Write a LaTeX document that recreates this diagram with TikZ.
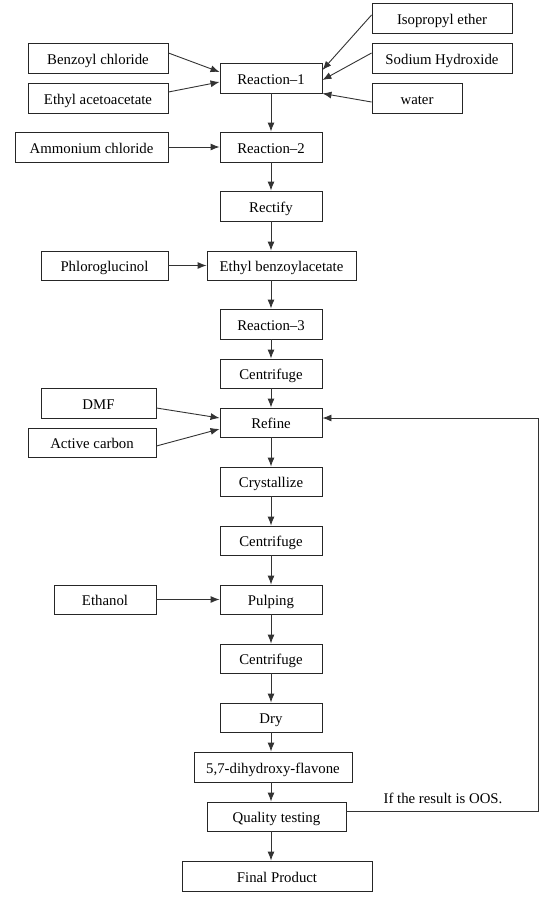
\documentclass[tikz,border=0pt]{standalone}
\usepackage{fontspec}
\setmainfont{Liberation Serif}
\usetikzlibrary{arrows.meta}
\begin{document}
\begin{tikzpicture}[x=1pt,y=-1pt,
  box/.style={draw=black!85, line width=0.9pt, rectangle, inner sep=0pt, minimum height=30pt, text height=12pt, text depth=0pt, font=\fontsize{14.8}{17}\selectfont, text=black},
  arr/.style={draw=black!80, line width=0.9pt, -{Latex[length=9pt,width=7pt]}}]
\useasboundingbox (0,0) rectangle (556,900);
\fill[white] (0,0) rectangle (556,900);
% input boxes
\node[box, minimum width=140pt] (iso) at (442,18) {Isopropyl ether};
\node[box, minimum width=140pt] (naoh) at (442,58) {Sodium Hydroxide};
\node[box, minimum width=90pt] (water) at (417,98) {water};
\node[box, minimum width=140pt] (benz) at (98,58) {Benzoyl chloride};
\node[box, minimum width=140pt] (eaa) at (98,98) {Ethyl acetoacetate};
\node[box, minimum width=153pt] (amm) at (91.5,147) {Ammonium chloride};
\node[box, minimum width=127pt, minimum height=29pt] (phl) at (104.5,265.5) {Phloroglucinol};
\node[box, minimum width=115pt] (dmf) at (98.5,403) {DMF};
\node[box, minimum width=128pt, minimum height=29pt] (ac) at (92,442.5) {Active carbon};
\node[box, minimum width=102pt, minimum height=29pt] (eth) at (105,599.5) {Ethanol};
% main column
\node[box, minimum width=102pt] (r1) at (271,78) {Reaction–1};
\node[box, minimum width=102pt] (r2) at (271,147) {Reaction–2};
\node[box, minimum width=102pt] (rect) at (271,206) {Rectify};
\node[box, minimum width=149pt, minimum height=29pt] (ebz) at (281.5,265.5) {Ethyl benzoylacetate};
\node[box, minimum width=102pt] (r3) at (271,324) {Reaction–3};
\node[box, minimum width=102pt, minimum height=29pt] (cen1) at (271,373.5) {Centrifuge};
\node[box, minimum width=102pt, minimum height=29pt] (ref) at (271,422.5) {Refine};
\node[box, minimum width=102pt, minimum height=29pt] (cry) at (271,481.5) {Crystallize};
\node[box, minimum width=102pt, minimum height=29pt] (cen2) at (271,540.5) {Centrifuge};
\node[box, minimum width=102pt, minimum height=29pt] (pul) at (271,599.5) {Pulping};
\node[box, minimum width=102pt, minimum height=29pt] (cen3) at (271,658.5) {Centrifuge};
\node[box, minimum width=102pt, minimum height=29pt] (dry) at (271,717.5) {Dry};
\node[box, minimum width=158pt] (flav) at (273,767) {5,7-dihydroxy-flavone};
\node[box, minimum width=139pt, minimum height=29pt] (qt) at (276.5,816.5) {Quality testing};
\node[box, minimum width=190pt] (fin) at (277,876) {Final Product};
\node[font=\fontsize{14.8}{17}\selectfont, inner sep=0pt, text height=12pt, text depth=0pt] (oos) at (443,797) {If the result is OOS.};
\coordinate (fbA) at (538,811);
\coordinate (fbB) at (538,418);
% side arrows
\draw[arr] ([yshift=5pt]benz.east) -- ([yshift=6pt]r1.west);
\draw[arr] ([yshift=6pt]eaa.east) -- ([yshift=-4pt]r1.west);
\draw[arr] ([yshift=3pt]iso.west) -- ([yshift=8pt]r1.east);
\draw[arr] ([yshift=5pt]naoh.west) -- ([yshift=-2pt]r1.east);
\draw[arr] ([yshift=-4pt]water.west) -- (r1.south east);
\draw[arr] (amm.east) -- (r2.west);
\draw[arr] (phl.east) -- (ebz.west);
\draw[arr] ([yshift=-5pt]dmf.east) -- ([yshift=4.5pt]ref.west);
\draw[arr] ([yshift=-3.5pt]ac.east) -- ([yshift=-6.5pt]ref.west);
\draw[arr] (eth.east) -- (pul.west);
% main flow
\draw[arr] (r1) -- (r2);
\draw[arr] (r2) -- (rect);
\draw[arr] (rect) -- (rect |- ebz.north);
\draw[arr] (r3 |- ebz.south) -- (r3);
\draw[arr] (r3) -- (cen1);
\draw[arr] (cen1) -- (ref);
\draw[arr] (ref) -- (cry);
\draw[arr] (cry) -- (cen2);
\draw[arr] (cen2) -- (pul);
\draw[arr] (pul) -- (cen3);
\draw[arr] (cen3) -- (dry);
\draw[arr] (dry) -- (dry |- flav.north);
\draw[arr] (dry |- flav.south) -- (dry |- qt.north);
\draw[arr] (dry |- qt.south) -- (dry |- fin.north);
% feedback
\draw[arr] (qt.east |- fbA) -- (fbA) -- (fbB) -- (ref.east |- fbB);
\end{tikzpicture}
\end{document}
